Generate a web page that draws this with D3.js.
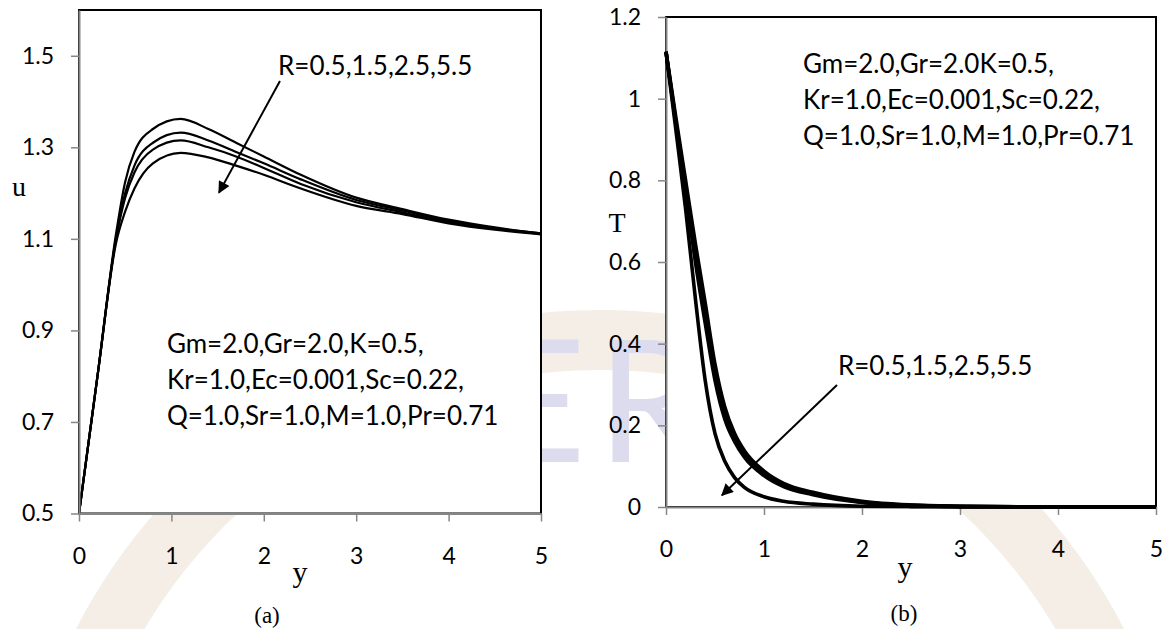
<!DOCTYPE html>
<html>
<head>
<meta charset="utf-8">
<script src="https://d3js.org/d3.v7.min.js"></script>
<style>
  body { margin: 0; background: #fff; }
  text { font-family: Lato, "Open Sans", sans-serif; }
  .serif { font-family: "Liberation Serif", "DejaVu Serif", serif; }
</style>
</head>
<body>
<script>
// panel (a): velocity u against y, one series per R
const uY = [0, 0.2, 0.4, 0.5, 0.6, 0.8, 1.1, 1.4, 1.7, 2.0, 2.4, 3.0, 3.5, 4.0, 4.5, 5.0];
const uR05 = [0.5, 0.80, 1.11, 1.225, 1.29, 1.34, 1.362, 1.34, 1.31, 1.28, 1.24, 1.19, 1.165, 1.142, 1.125, 1.112];
const uR15 = [0.5, 0.80, 1.10, 1.20, 1.26, 1.31, 1.332, 1.315, 1.29, 1.265, 1.23, 1.185, 1.162, 1.139, 1.123, 1.112];
const uR25 = [0.5, 0.80, 1.10, 1.19, 1.245, 1.295, 1.315, 1.30, 1.28, 1.255, 1.22, 1.18, 1.158, 1.136, 1.122, 1.111];
const uR55 = [0.5, 0.80, 1.09, 1.16, 1.21, 1.265, 1.288, 1.278, 1.26, 1.24, 1.21, 1.172, 1.154, 1.134, 1.120, 1.110];
const uTicks = [0.5, 0.7, 0.9, 1.1, 1.3, 1.5];

// panel (b): temperature T against y
const tY = [0, 0.1, 0.2, 0.3, 0.4, 0.5, 0.6, 0.7, 0.8, 1.0, 1.2, 1.5, 2.0, 2.5, 3.0, 4.0, 5.0];
const tR05 = [1.115, 0.955, 0.80, 0.645, 0.50, 0.35, 0.245, 0.18, 0.138, 0.088, 0.058, 0.036, 0.014, 0.005, 0.002, 0, 0];
const tR15 = [1.115, 0.945, 0.785, 0.625, 0.475, 0.33, 0.23, 0.17, 0.13, 0.082, 0.054, 0.033, 0.012, 0.004, 0.0015, 0, 0];
const tR25 = [1.115, 0.94, 0.77, 0.60, 0.45, 0.31, 0.215, 0.16, 0.122, 0.077, 0.05, 0.03, 0.011, 0.004, 0.001, 0, 0];
const tR55 = [1.115, 0.925, 0.73, 0.51, 0.31, 0.18, 0.112, 0.072, 0.048, 0.025, 0.014, 0.007, 0.002, 0.001, 0, 0, 0];
const tTicks = [0, 0.2, 0.4, 0.6, 0.8, 1.0, 1.2];

const xTicks = [0, 1, 2, 3, 4, 5];
const rLabel = "R=0.5,1.5,2.5,5.5";
const paramsA = ["Gm=2.0,Gr=2.0,K=0.5,", "Kr=1.0,Ec=0.001,Sc=0.22,", "Q=1.0,Sr=1.0,M=1.0,Pr=0.71"];
const paramsB = ["Gm=2.0,Gr=2.0K=0.5,", "Kr=1.0,Ec=0.001,Sc=0.22,", "Q=1.0,Sr=1.0,M=1.0,Pr=0.71"];

const width = 1166, height = 629;
const svg = d3.select("body").append("svg")
    .attr("width", width)
    .attr("height", height);

svg.append("defs").append("marker")
    .attr("id", "head")
    .attr("viewBox", "0 0 10 10")
    .attr("refX", 9).attr("refY", 5)
    .attr("markerWidth", 7).attr("markerHeight", 6)
    .attr("markerUnits", "strokeWidth")
    .attr("orient", "auto")
  .append("path")
    .attr("d", "M0,0 L10,5 L0,10 Z")
    .attr("fill", "black");

// faint watermark in the background
let wm = svg.append("g");
wm.append("circle").attr("cx", 600).attr("cy", 900).attr("r", 560)
    .attr("fill", "none").attr("stroke", "#f4eee6").attr("stroke-width", 60);
wm.append("text").attr("x", 586).attr("y", 462).attr("text-anchor", "end")
    .attr("font-size", 170).attr("fill", "#dcdcee").text("IJSE");
wm.append("text").attr("x", 597).attr("y", 462)
    .attr("font-size", 170).attr("fill", "#dcdcee").text("R");

function panel(cfg) {
    let x = d3.scaleLinear().domain([0, 5]).range([cfg.left, cfg.right]);
    let y = d3.scaleLinear().domain(cfg.ydom).range([cfg.bottom, cfg.top]);
    let g = svg.append("g");

    g.append("rect")
        .attr("x", cfg.left).attr("y", cfg.top)
        .attr("width", cfg.right - cfg.left).attr("height", cfg.bottom - cfg.top)
        .attr("fill", "white").attr("stroke", "black").attr("stroke-width", 2);

    let line = d3.line()
        .x(function(d) { return x(d[0]); })
        .y(function(d) { return y(d[1]); })
        .curve(d3.curveMonotoneX);

    g.selectAll("path.curve")
        .data(cfg.series)
        .join("path")
            .attr("class", "curve")
            .attr("fill", "none")
            .attr("stroke", "black")
            .attr("stroke-width", cfg.lw)
            .attr("d", function(s) { return line(cfg.xs.map(function(v, i) { return [v, s[i]]; })); });

    let ax = g.append("g")
        .attr("transform", "translate(0," + cfg.bottom + ")")
        .call(d3.axisBottom(x).tickValues(xTicks).tickSize(8).tickSizeOuter(0).tickFormat(d3.format("d")));
    ax.selectAll("text").attr("y", 50).attr("dy", 0);

    let ay = g.append("g")
        .attr("transform", "translate(" + cfg.left + ",0)")
        .call(d3.axisLeft(y).tickValues(cfg.yticks).tickSize(8).tickSizeOuter(0).tickFormat(cfg.yfmt));
    ay.selectAll("text").attr("x", -25);

    [ax, ay].forEach(function(a) {
        a.select(".domain").attr("stroke", "#868686").attr("stroke-width", 2);
        a.selectAll(".tick line").attr("stroke", "#868686").attr("stroke-width", 1.5);
        a.selectAll("text").attr("font-family", "Lato").attr("font-size", 23).attr("fill", "black");
    });
    // curves at the baseline sit on top of the axis
    if (cfg.curvesOnTop) g.selectAll("path.curve").raise();

    g.append("text").attr("class", "serif")
        .attr("x", cfg.ytitle[0]).attr("y", cfg.ytitle[1])
        .attr("text-anchor", "middle").attr("font-size", 28).text(cfg.ylabel);
    g.append("text").attr("class", "serif")
        .attr("x", cfg.xtitle[0]).attr("y", cfg.xtitle[1])
        .attr("text-anchor", "middle").attr("font-size", 30).text("y");
    g.append("text").attr("class", "serif")
        .attr("x", cfg.tag[0]).attr("y", cfg.tag[1])
        .attr("text-anchor", "middle").attr("font-size", 23).text(cfg.tagText);

    g.append("line")
        .attr("x1", x(cfg.arrow[0])).attr("y1", y(cfg.arrow[1]))
        .attr("x2", x(cfg.arrow[2])).attr("y2", y(cfg.arrow[3]))
        .attr("stroke", "black").attr("stroke-width", 2)
        .attr("marker-end", "url(#head)");

    g.append("text")
        .attr("x", x(cfg.rPos[0])).attr("y", y(cfg.rPos[1]))
        .attr("font-size", 26).text(rLabel);

    g.selectAll("text.param")
        .data(cfg.params)
        .join("text")
            .attr("class", "param")
            .attr("x", x(cfg.pPos[0]))
            .attr("y", function(d, i) { return y(cfg.pPos[1]) + i * 36; })
            .attr("font-size", 26)
            .text(function(d) { return d; });
}

panel({
    left: 79, right: 541, top: 10, bottom: 513.5,
    ydom: [0.5, 1.6], yticks: uTicks, yfmt: d3.format(".1f"),
    xs: uY, series: [uR05, uR15, uR25, uR55], lw: 2.2,
    ylabel: "u", ytitle: [19, 196], xtitle: [300, 582], tag: [267, 623], tagText: "(a)",
    arrow: [2.175, 1.445, 1.515, 1.201],
    rPos: [2.154, 1.459], pPos: [0.952, 0.850], params: paramsA
});

panel({
    left: 666, right: 1156, top: 17, bottom: 507,
    ydom: [0, 1.2], yticks: tTicks, yfmt: function(d) { return String(+d.toFixed(1)); },
    xs: tY, series: [tR05, tR15, tR25, tR55], lw: 3.6, curvesOnTop: true,
    ylabel: "T", ytitle: [617, 232], xtitle: [905, 577], tag: [904, 621], tagText: "(b)",
    arrow: [1.745, 0.299, 0.571, 0.029],
    rPos: [1.755, 0.323], pPos: [1.398, 1.063], params: paramsB
});
</script>
</body>
</html>
